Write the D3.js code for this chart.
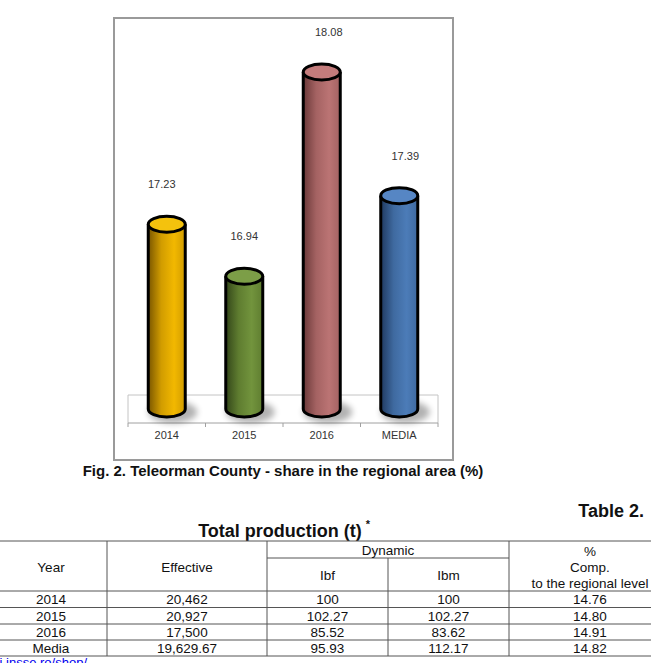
<!DOCTYPE html>
<html>
<head>
<meta charset="utf-8">
<script src="https://cdn.jsdelivr.net/npm/d3@7"></script>
<style>
  body { margin: 0; background: #fff; }
  text { font-family: "Liberation Sans", Arial, sans-serif; }
</style>
</head>
<body>
<svg id="chart" width="651" height="663"></svg>
<script>
// chart data
const categories = ["2014", "2015", "2016", "MEDIA"];
const shares = [17.23, 16.94, 18.08, 17.39];
const shareLabels = ["17.23", "16.94", "18.08", "17.39"];

// table data
const tableYears = ["2014", "2015", "2016", "Media"];
const effective = ["20,462", "20,927", "17,500", "19,629.67"];
const ibf = ["100", "102.27", "85.52", "95.93"];
const ibm = ["100", "102.27", "83.62", "112.17"];
const compRegional = ["14.76", "14.80", "14.91", "14.82"];

// colours per cylinder: [dark edge, mid, light, top face]
const palette = [
  ["#7a5600", "#d19c00", "#f2b800", "#f4c20d"],
  ["#334619", "#5f7d30", "#72943d", "#7c9e47"],
  ["#6a3838", "#a46262", "#bb7474", "#c47c7c"],
  ["#203a60", "#3f6aa0", "#4c7cb8", "#5686c4"]
];
const labelDx = [-5, 0, 7, 6];

const svg = d3.select("#chart");
const defs = svg.append("defs");

palette.forEach((c, i) => {
  const g = defs.append("linearGradient").attr("id", "body" + i)
    .attr("x1", "0%").attr("x2", "100%").attr("y1", "0%").attr("y2", "0%");
  g.append("stop").attr("offset", "0%").attr("stop-color", c[0]);
  g.append("stop").attr("offset", "35%").attr("stop-color", c[1]);
  g.append("stop").attr("offset", "70%").attr("stop-color", c[2]);
  g.append("stop").attr("offset", "100%").attr("stop-color", c[1]);
});
defs.append("filter").attr("id", "blur")
  .attr("x", "-50%").attr("y", "-50%").attr("width", "200%").attr("height", "200%")
  .append("feGaussianBlur").attr("stdDeviation", 3);

// chart frame
svg.append("rect")
  .attr("x", 114).attr("y", 18).attr("width", 339).attr("height", 442)
  .attr("fill", "#fff").attr("stroke", "#9a9a9a").attr("stroke-width", 2);

const x = d3.scaleBand().domain(categories).range([128, 438]).padding(0);
const y = d3.scaleLinear().domain([16.2, 18.2]).range([409, 50.4]);
const rx = 18.5, ry = 8;

// floor
const floorTop = 395, floorBottom = 423;
svg.append("path")
  .attr("d", `M128,${floorBottom}L128,${floorTop}L438,${floorTop}L438,${floorBottom}`)
  .attr("fill", "none").attr("stroke", "#c4c4c4").attr("stroke-width", 1);

const xAxis = svg.append("g").attr("transform", `translate(0,${floorBottom})`)
  .call(d3.axisBottom(x).tickSize(0).tickPadding(8));
xAxis.select(".domain").attr("stroke", "#a0a0a0").attr("d", "M128,0H438");
xAxis.selectAll("text").attr("font-size", 11).attr("fill", "#333")
  .attr("font-family", "Liberation Sans, Arial, sans-serif");
// tick marks on band edges
const edges = categories.map(c => x(c)).concat([438]);
xAxis.selectAll(".edge").data(edges).join("line").attr("class", "edge")
  .attr("x1", d => d).attr("x2", d => d).attr("y1", 0).attr("y2", 4)
  .attr("stroke", "#a0a0a0");

const cyl = svg.append("g").selectAll("g").data(shares).join("g");

// soft shadow on the floor
cyl.append("ellipse")
  .attr("cx", (d, i) => x(categories[i]) + x.bandwidth() / 2 + 6)
  .attr("cy", y(16.2) + 3)
  .attr("rx", rx + 6).attr("ry", ry + 3)
  .attr("fill", "#000").attr("opacity", 0.3).attr("filter", "url(#blur)");

cyl.append("path")
  .attr("d", (d, i) => {
    const cx = x(categories[i]) + x.bandwidth() / 2;
    const yt = y(d), yb = y(16.2);
    return `M${cx - rx},${yt}L${cx - rx},${yb}A${rx},${ry} 0 0 0 ${cx + rx},${yb}L${cx + rx},${yt}Z`;
  })
  .attr("fill", (d, i) => `url(#body${i})`)
  .attr("stroke", "none");

cyl.append("path")
  .attr("d", (d, i) => {
    const cx = x(categories[i]) + x.bandwidth() / 2;
    const yt = y(d), yb = y(16.2);
    return `M${cx - rx},${yt}L${cx - rx},${yb}A${rx},${ry} 0 0 0 ${cx + rx},${yb}L${cx + rx},${yt}`;
  })
  .attr("fill", "none").attr("stroke", "#000").attr("stroke-width", 3);

cyl.append("ellipse")
  .attr("cx", (d, i) => x(categories[i]) + x.bandwidth() / 2)
  .attr("cy", d => y(d))
  .attr("rx", rx).attr("ry", ry)
  .attr("fill", (d, i) => palette[i][3])
  .attr("stroke", "#000").attr("stroke-width", 3);

cyl.append("text")
  .attr("x", (d, i) => x(categories[i]) + x.bandwidth() / 2 + labelDx[i])
  .attr("y", d => y(d) - 36)
  .attr("text-anchor", "middle")
  .attr("font-size", 11).attr("fill", "#333")
  .text((d, i) => shareLabels[i]);

// caption and titles
svg.append("text").attr("x", 283).attr("y", 476).attr("text-anchor", "middle")
  .attr("font-size", 15).attr("font-weight", "bold").attr("fill", "#111")
  .text("Fig. 2. Teleorman County - share in the regional area (%)");

svg.append("text").attr("x", 644).attr("y", 517).attr("text-anchor", "end")
  .attr("font-size", 18).attr("font-weight", "bold").attr("fill", "#111")
  .text("Table 2.");

svg.append("text").attr("x", 280).attr("y", 537).attr("text-anchor", "middle")
  .attr("font-size", 18).attr("font-weight", "bold").attr("fill", "#111")
  .text("Total production (t)");
svg.append("text").attr("x", 368).attr("y", 528).attr("text-anchor", "middle")
  .attr("font-size", 11).attr("font-weight", "bold").attr("fill", "#111")
  .text("*");

// table
const colEdges = [-5, 107, 267, 388, 509, 671];
const rowEdges = [591, 607.5, 624, 640, 656];
const tTop = 541, tSub = 558;
const tbl = svg.append("g").attr("stroke", "#555").attr("stroke-width", 1);

tbl.append("line").attr("x1", -5).attr("x2", 671).attr("y1", tTop).attr("y2", tTop);
tbl.append("line").attr("x1", 267).attr("x2", 509).attr("y1", tSub).attr("y2", tSub);
tbl.selectAll(".hrow").data(rowEdges).join("line").attr("class", "hrow")
  .attr("x1", -5).attr("x2", 671).attr("y1", d => d).attr("y2", d => d);
tbl.selectAll(".vcol").data(colEdges).join("line").attr("class", "vcol")
  .attr("x1", d => d).attr("x2", d => d)
  .attr("y1", (d, i) => i === 3 ? tSub : tTop).attr("y2", 656);

const mid = (a, b) => (a + b) / 2;
const cell = (txt, cx, cy) => svg.append("text").attr("x", cx).attr("y", cy)
  .attr("text-anchor", "middle").attr("dominant-baseline", "central")
  .attr("font-size", 13.5).attr("fill", "#111").text(txt);

cell("Year", mid(colEdges[0], colEdges[1]), 567);
cell("Effective", mid(colEdges[1], colEdges[2]), 567);
cell("Dynamic", mid(colEdges[2], colEdges[4]), 550);
cell("Ibf", mid(colEdges[2], colEdges[3]), 575);
cell("Ibm", mid(colEdges[3], colEdges[4]), 575);
cell("%", mid(colEdges[4], colEdges[5]), 551);
cell("Comp.", mid(colEdges[4], colEdges[5]), 567.5);
cell("to the regional level", mid(colEdges[4], colEdges[5]), 583);

const columns = [tableYears, effective, ibf, ibm, compRegional];
columns.forEach((col, c) => {
  col.forEach((v, r) => {
    cell(v, mid(colEdges[c], colEdges[c + 1]), mid(rowEdges[r], rowEdges[r + 1]) + 0.5);
  });
});

// source link, cut off at the page edge as in the source
svg.append("text").attr("x", 87).attr("y", 667).attr("text-anchor", "end")
  .attr("font-size", 13).attr("fill", "#0000ee").attr("text-decoration", "underline")
  .text("http://statistici.insse.ro/shop/");
</script>
</body>
</html>
